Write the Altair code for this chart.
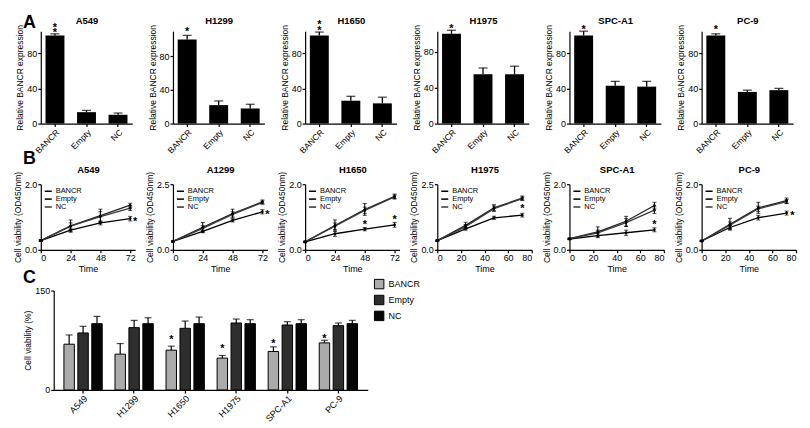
import altair as alt
import pandas as pd

FONT = "Liberation Sans"

cells = ["A549", "H1299", "H1650", "H1975", "SPC-A1", "PC-9"]
groups = ["BANCR", "Empty", "NC"]

# ---------------- Panel A: relative BANCR expression ----------------
expr_bancr = [100, 100, 100, 100, 100, 100]
expr_bancr_err = [2, 5, 4, 4, 5, 2]
expr_empty = [13, 22, 26, 55, 43, 36]
expr_empty_err = [2, 5, 5, 7, 5, 2]
expr_nc = [10, 18, 23, 55, 42, 38]
expr_nc_err = [2, 5, 7, 9, 6, 2]
expr_ymax = [105, 110, 105, 103, 105, 105]
expr_ticks = [0, 20, 40, 60, 80, 100]
expr_star_text = ["*\n*", "*", "*\n*", "*", "*", "*"]
expr_star_y = [112, 112, 115, 109, 110, 110]

# ---------------- Panel B: cell viability over time ----------------
times = [0, 24, 48, 72]
viab_titles = ["A549", "A1299", "H1650", "H1975", "SPC-A1", "PC-9"]
viab_ymax = [2.0, 2.5, 2.0, 2.5, 2.0, 2.0]
viab_yticks20 = [0.0, 0.5, 1.0, 1.5, 2.0]
viab_yticks25 = [0.0, 0.5, 1.0, 1.5, 2.0, 2.5]
viab_yticks = [viab_yticks20, viab_yticks25, viab_yticks20, viab_yticks25, viab_yticks20, viab_yticks20]
viab_xmax = [76, 76, 76, 80, 80, 80]
ticks72 = [0, 24, 48, 72]
ticks80 = [0, 20, 40, 60, 80]
viab_xticks = [ticks72, ticks72, ticks72, ticks80, ticks80, ticks80]

# order of inner lists: BANCR, Empty, NC
viab_A549 = [[0.28, 0.60, 0.82, 0.95], [0.28, 0.73, 1.04, 1.36], [0.28, 0.72, 1.01, 1.27]]
viab_A549_err = [[0.02, 0.06, 0.06, 0.07], [0.02, 0.18, 0.20, 0.06], [0.02, 0.10, 0.15, 0.07]]
viab_A1299 = [[0.32, 0.70, 1.12, 1.45], [0.32, 0.86, 1.38, 1.83], [0.32, 0.82, 1.35, 1.80]]
viab_A1299_err = [[0.02, 0.05, 0.06, 0.08], [0.02, 0.18, 0.17, 0.07], [0.02, 0.10, 0.10, 0.06]]
viab_H1650 = [[0.24, 0.49, 0.63, 0.76], [0.24, 0.74, 1.23, 1.63], [0.24, 0.72, 1.20, 1.61]]
viab_H1650_err = [[0.02, 0.08, 0.05, 0.07], [0.02, 0.17, 0.18, 0.07], [0.02, 0.10, 0.10, 0.06]]
viab_H1975 = [[0.35, 0.80, 1.22, 1.32], [0.35, 0.93, 1.60, 1.97], [0.35, 0.88, 1.57, 1.95]]
viab_H1975_err = [[0.02, 0.05, 0.06, 0.07], [0.02, 0.12, 0.12, 0.08], [0.02, 0.08, 0.10, 0.06]]
viab_SPCA1 = [[0.33, 0.43, 0.52, 0.61], [0.34, 0.55, 0.87, 1.35], [0.33, 0.52, 0.83, 1.21]]
viab_SPCA1_err = [[0.02, 0.06, 0.08, 0.06], [0.02, 0.15, 0.15, 0.10], [0.02, 0.08, 0.12, 0.10]]
viab_PC9 = [[0.27, 0.68, 0.98, 1.12], [0.27, 0.78, 1.28, 1.50], [0.27, 0.75, 1.25, 1.47]]
viab_PC9_err = [[0.02, 0.06, 0.07, 0.06], [0.02, 0.18, 0.17, 0.08], [0.02, 0.10, 0.08, 0.06]]
viab_means = [viab_A549, viab_A1299, viab_H1650, viab_H1975, viab_SPCA1, viab_PC9]
viab_errs = [viab_A549_err, viab_A1299_err, viab_H1650_err, viab_H1975_err, viab_SPCA1_err, viab_PC9_err]

viab_star_panel = ["A549", "A1299", "H1650", "H1650", "H1975", "SPC-A1", "PC-9"]
viab_star_time = [76, 76, 48, 72, 72, 72, 77]
viab_star_y = [0.95, 1.45, 0.85, 1.0, 1.65, 0.85, 1.12]

# ---------------- Panel C: cell viability (%) ----------------
pct_bancr = [69, 54, 60, 48, 58, 71]
pct_bancr_err = [14, 16, 6, 4, 7, 4]
pct_empty = [86, 94, 93, 101, 98, 97]
pct_empty_err = [10, 11, 11, 6, 5, 4]
pct_nc = [100, 100, 100, 100, 100, 100]
pct_nc_err = [11, 9, 10, 6, 6, 5]
pct_ticks = [0, 50, 100, 150]
pct_star_cell = ["H1650", "H1975", "SPC-A1", "PC-9"]
pct_star_y = [80, 66, 74, 81]


def y_axis(title, values, fmt=None):
    kw = dict(title=title, values=values, labelOverlap=False, labelSeparation=-40,
              labelBound=False, labelFlush=False)
    if fmt:
        kw["format"] = fmt
    return alt.Axis(**kw)


def top_title_axis(text, pad):
    return alt.Axis(orient="top", title=text, labels=False, ticks=False, domain=False,
                    titleFontWeight="bold", titleFontSize=9.5, titlePadding=pad)


def expr_panel(i):
    cell = cells[i]
    df = pd.DataFrame({
        "group": groups,
        "mean": [expr_bancr[i], expr_empty[i], expr_nc[i]],
        "err": [expr_bancr_err[i], expr_empty_err[i], expr_nc_err[i]],
    })
    df["upper"] = df["mean"] + df["err"]
    stars = pd.DataFrame({"group": ["BANCR"], "y": [expr_star_y[i]], "t": [expr_star_text[i]]})
    xscale = alt.Scale(paddingInner=0.4, paddingOuter=0.15)
    xenc = alt.X("group:N", sort=groups, scale=xscale,
                 axis=alt.Axis(title=None, labelAngle=-45, labelAlign="right",
                               labelBaseline="top", labelFontSize=8.5))
    xtop = alt.X("group:N", sort=groups, axis=top_title_axis(cell, 6))
    xplain = alt.X("group:N", sort=groups, axis=None)
    yscale = alt.Scale(domain=[0, expr_ymax[i]], nice=False)
    base = alt.Chart(df)
    bars = base.mark_bar(color="black").encode(
        x=xenc,
        y=alt.Y("mean:Q", scale=yscale, axis=y_axis("Relative BANCR expression", expr_ticks)))
    rule = base.mark_rule(color="black", strokeWidth=1.3).encode(x=xtop, y="mean:Q", y2="upper:Q")
    cap = base.mark_tick(color="black", thickness=1.3, size=9).encode(x=xplain, y="upper:Q")
    star = alt.Chart(stars).mark_text(fontSize=11, fontWeight="bold", lineBreak="\n",
                                      lineHeight=5.5, baseline="middle", dy=3,
                                      color="black").encode(
        x=xplain, y="y:Q", text="t:N")
    return alt.layer(bars, rule, cap, star).resolve_axis(x="independent").properties(
        width=92, height=93)


def viab_panel(i):
    rows = []
    for g, means, errs in zip(groups, viab_means[i], viab_errs[i]):
        for t, m, e in zip(times, means, errs):
            rows.append({"group": g, "time": t, "mean": m, "lo": m - e, "hi": m + e})
    df = pd.DataFrame(rows)
    title = viab_titles[i]
    stars = pd.DataFrame({
        "time": [t for p, t in zip(viab_star_panel, viab_star_time) if p == title],
        "y": [y for p, y in zip(viab_star_panel, viab_star_y) if p == title],
    })
    xenc = alt.X("time:Q", scale=alt.Scale(domain=[0, viab_xmax[i]], nice=False),
                 axis=alt.Axis(title="Time", values=viab_xticks[i], titleFontSize=9,
                               labelOverlap=False))
    xtop = alt.X("time:Q", axis=top_title_axis(title, 10))
    xplain = alt.X("time:Q", axis=None)
    yscale = alt.Scale(domain=[0, viab_ymax[i]], nice=False)
    base = alt.Chart(df)
    line = base.mark_line(strokeWidth=1.3).encode(
        x=xenc,
        y=alt.Y("mean:Q", scale=yscale,
                axis=y_axis("Cell viability (OD450nm)", viab_yticks[i], ".1f")),
        color=alt.Color("group:N", sort=groups,
                        scale=alt.Scale(domain=groups, range=["#000000", "#222222", "#3a3a3a"]),
                        legend=alt.Legend(title=None, orient="top-left", offset=3,
                                          symbolType="stroke", symbolStrokeWidth=1.6,
                                          symbolSize=50, labelFontSize=7.5, rowPadding=0,
                                          clipHeight=8, padding=0, labelOffset=3)))
    pts = base.mark_point(filled=True, size=7, color="black", opacity=1).encode(x=xplain, y="mean:Q")
    err = base.mark_rule(color="black", strokeWidth=1).encode(x=xtop, y="lo:Q", y2="hi:Q")
    cap_lo = base.mark_tick(orient="horizontal", size=4, thickness=1, color="black").encode(x=xplain, y="lo:Q")
    cap_hi = base.mark_tick(orient="horizontal", size=4, thickness=1, color="black").encode(x=xplain, y="hi:Q")
    star = alt.Chart(stars).mark_text(text="*", fontSize=11, fontWeight="bold",
                                      baseline="middle", dy=3, color="black").encode(
        x=xplain, y="y:Q")
    return alt.layer(line, err, cap_lo, cap_hi, pts, star).resolve_axis(
        x="independent").properties(width=95, height=66)


def pct_panel():
    rows = []
    for g, means, errs in [("BANCR", pct_bancr, pct_bancr_err),
                           ("Empty", pct_empty, pct_empty_err),
                           ("NC", pct_nc, pct_nc_err)]:
        for c, m, e in zip(cells, means, errs):
            rows.append({"cell": c, "group": g, "mean": m, "upper": m + e})
    df = pd.DataFrame(rows)
    stars = pd.DataFrame({"cell": pct_star_cell, "group": "BANCR", "y": pct_star_y})
    xenc = alt.X("cell:N", sort=cells, scale=alt.Scale(paddingInner=0.25, paddingOuter=0.2),
                 axis=alt.Axis(title=None, labelAngle=-45, labelAlign="right",
                               labelBaseline="top", labelFontSize=9))
    xoff = alt.XOffset("group:N", sort=groups, scale=alt.Scale(domain=groups, paddingInner=0.25))
    base = alt.Chart(df)
    bars = base.mark_bar(stroke="black", strokeWidth=1).encode(
        x=xenc, xOffset=xoff,
        y=alt.Y("mean:Q", scale=alt.Scale(domain=[0, 150], nice=False),
                axis=y_axis("Cell viability (%)", pct_ticks)),
        fill=alt.Fill("group:N", sort=groups,
                      scale=alt.Scale(domain=groups, range=["#ababab", "#2e2e2e", "#050505"]),
                      legend=alt.Legend(title=None, orient="none", legendX=335, legendY=-12,
                                        symbolType="square", symbolSize=90,
                                        symbolStrokeColor="black", symbolStrokeWidth=1,
                                        labelFontSize=9, rowPadding=1)))
    rule = base.mark_rule(color="black", strokeWidth=1.2).encode(
        x=xenc, xOffset=xoff, y="mean:Q", y2="upper:Q")
    cap = base.mark_tick(color="black", thickness=1.2, size=7).encode(
        x=xenc, xOffset=xoff, y="upper:Q")
    star = alt.Chart(stars).mark_text(text="*", fontSize=11, fontWeight="bold",
                                      baseline="middle", dy=3, color="black").encode(
        x=xenc, xOffset=xoff, y="y:Q")
    return alt.layer(rule, bars, cap, star).properties(width=316, height=100)


def letter(t, offset):
    return alt.TitleParams(t, anchor="start", frame="group", dx=-18, fontSize=18,
                           fontWeight="bold", baseline="alphabetic", offset=offset)


rowA = alt.hconcat(*[expr_panel(i) for i in range(6)], spacing=41, bounds="flush",
                   title=letter("A", -31)).resolve_scale(x="independent", y="independent")

rowB = alt.hconcat(*[viab_panel(i) for i in range(6)], spacing=38, bounds="flush",
                   title=letter("B", -18)).resolve_scale(
    x="independent", y="independent", color="independent").resolve_legend(color="independent")

spacer = alt.Chart(pd.DataFrame({"v": [0]})).mark_point(opacity=0).encode(
    x=alt.X("v:Q", axis=None), y=alt.Y("v:Q", axis=None)).properties(width=1, height=1)

rowC = alt.hconcat(spacer, pct_panel(), spacing=12, bounds="flush",
                   title=letter("C", -22)).resolve_scale(x="independent", y="independent")

chart = alt.vconcat(rowA, rowB, rowC, spacing=-5).resolve_scale(
    color="independent", fill="independent").resolve_legend(
    color="independent", fill="independent").configure(
    font=FONT, background="white"
).configure_view(stroke=None).configure_axis(
    labelFont=FONT, titleFont=FONT, labelColor="black", titleColor="black",
    domainColor="black", tickColor="black", grid=False, labelFontSize=9,
    titleFontSize=8.5, titleFontWeight="normal", tickSize=3, domainWidth=1.2,
    tickWidth=1.2, labelPadding=1, titlePadding=2, labelOverlap=False
).configure_title(font=FONT, color="black").configure_legend(labelFont=FONT, labelColor="black")

chart.save("out.html", embed_options={"renderer": "svg", "actions": False})
